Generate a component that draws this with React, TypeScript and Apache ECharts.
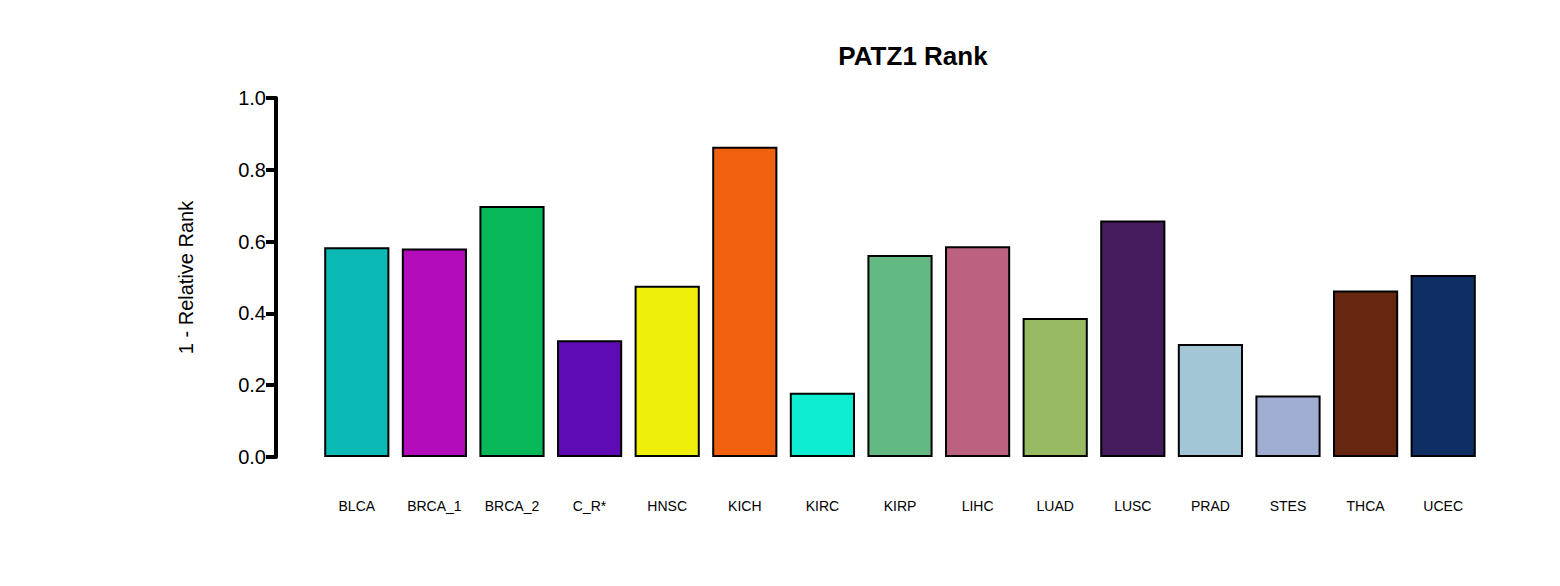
import React, { useEffect, useRef } from "react";
import * as echarts from "echarts";

const categories = ["BLCA","BRCA_1","BRCA_2","C_R*","HNSC","KICH","KIRC","KIRP","LIHC","LUAD","LUSC","PRAD","STES","THCA","UCEC"];
const values = [0.584,0.581,0.699,0.325,0.477,0.864,0.179,0.563,0.587,0.387,0.659,0.315,0.171,0.464,0.507];
const colors = ["#0bbab5","#b30cba","#08b858","#5e0ab5","#eef00c","#f0600f","#0eedd2","#62ba82","#bc6180","#97ba62","#461c5f","#a2c6d5","#a0aed3","#66260f","#0e2e64"];
const yTicks = ["0.0","0.2","0.4","0.6","0.8","1.0"];

export default function App() {
  const ref = useRef<HTMLDivElement>(null);
  useEffect(() => {
    const chart = echarts.init(ref.current!, null, { renderer: "svg" });
    chart.setOption({
      animation: false,
      backgroundColor: "#fff",
      title: { text: "PATZ1 Rank", left: 900, top: 30, textAlign: "center",
        textStyle: { fontFamily: "Liberation Sans", fontWeight: "bold", fontSize: 26, color: "#000" } },
      grid: { left: 310, right: 70, top: 90, bottom: 121 },
      xAxis: { type: "category", data: categories,
        axisLine: { show: false }, axisTick: { show: false },
        axisLabel: { margin: 42, fontSize: 14, color: "#000", fontFamily: "Liberation Sans" } },
      yAxis: { type: "value", min: 0, max: 1, interval: 0.2, offset: 42,
        splitLine: { show: false },
        axisLine: { show: true, lineStyle: { color: "#000", width: 4 } },
        axisTick: { show: true, length: 10, lineStyle: { color: "#000", width: 4 } },
        axisLabel: { fontSize: 20, color: "#000", fontFamily: "Liberation Sans", margin: 10,
          formatter: (v: number) => yTicks[Math.round(v * 5)] },
        name: "1 - Relative Rank", nameLocation: "middle", nameGap: 80,
        nameTextStyle: { fontSize: 20, color: "#000", fontFamily: "Liberation Sans" } },
      series: [{ type: "bar", barCategoryGap: "16%",
        data: values.map((v, i) => ({ value: v, itemStyle: { color: colors[i] } })),
        itemStyle: { borderColor: "#000", borderWidth: 2 } }]
    });
    return () => chart.dispose();
  }, []);
  return <div ref={ref} style={{ width: 1544, height: 570 }} />;
}
